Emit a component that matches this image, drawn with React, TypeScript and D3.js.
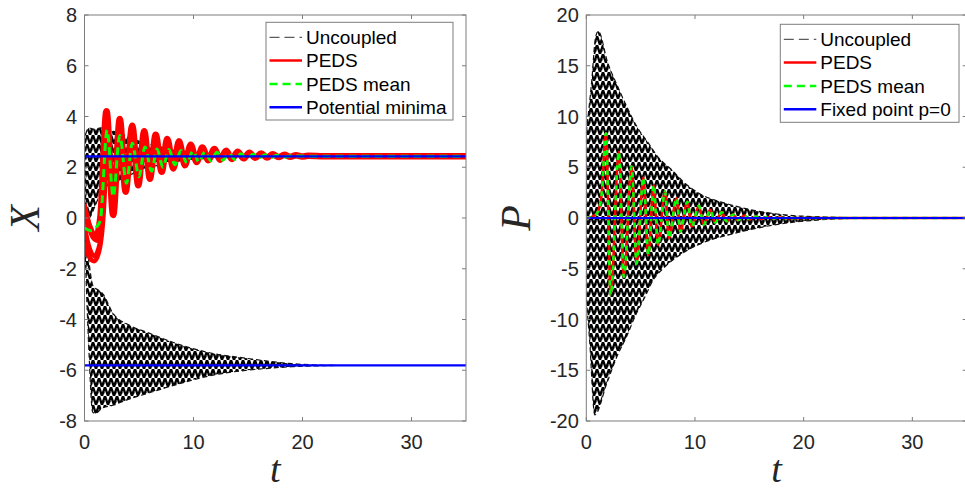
import React from "react";
import * as d3 from "d3";

type Pt = [number, number];

// ---- Tick values and labels ----
const tTicks = [0, 10, 20, 30];
const xTicks = [-8, -6, -4, -2, 0, 2, 4, 6, 8];
const pTicks = [-20, -15, -10, -5, 0, 5, 10, 15, 20];
const legendX = ["Uncoupled", "PEDS", "PEDS mean", "Potential minima"];
const legendP = ["Uncoupled", "PEDS", "PEDS mean", "Fixed point p=0"];

// ---- Reference lines ----
const xMinima = [2.43, -5.81];
const pFixed = [0];

// ---- X panel: uncoupled envelopes ----
const xUncUpTop: Pt[] = [[0.1, 3.3], [0.4, 3.55], [0.9, 3.5], [1.5, 3.55], [2.3, 3.45], [3.2, 3.35], [4.2, 3.15], [5.2, 3.0], [6.5, 2.85], [8, 2.7], [10, 2.6], [12, 2.5], [14, 2.46]];
const xUncUpBot: Pt[] = [[0.1, 0.3], [0.4, 0.0], [0.9, 0.4], [1.5, 1.0], [2.3, 1.3], [3.2, 1.5], [4.2, 1.7], [5.2, 1.9], [6.5, 2.05], [8, 2.2], [10, 2.3], [12, 2.38], [14, 2.42]];
const xUncLowTop: Pt[] = [[0.05, -0.3], [0.4, -1.7], [0.8, -2.7], [1.3, -2.85], [1.7, -3.0], [2.6, -3.75], [4, -4.2], [5.7, -4.5], [8.8, -5.0], [11.8, -5.34], [14.9, -5.53], [17, -5.65], [19, -5.74], [21, -5.79], [23, -5.81]];
const xUncLowBot: Pt[] = [[0.05, -1.2], [0.4, -5.2], [0.75, -7.65], [1.0, -7.7], [1.6, -7.5], [2.6, -7.38], [4, -7.15], [5.7, -6.92], [8.8, -6.52], [11.8, -6.19], [14.9, -6.0], [17, -5.92], [19, -5.86], [21, -5.83], [23, -5.81]];

// PEDS trajectory extrema
const xPeds: Pt[] = [[0, 0.2], [0.5, -0.4], [1.0, -0.8], [1.45, 0.0], [2.02, 4.21], [2.63, 0.12], [3.24, 3.9], [3.77, 1.03], [4.38, 3.64], [4.93, 1.29], [5.48, 3.42], [6.0, 1.55], [6.53, 3.28], [7.08, 1.82], [7.59, 3.11], [8.15, 1.95], [8.67, 3.02], [9.22, 2.08], [9.74, 2.89], [10.29, 2.21], [10.81, 2.78], [11.36, 2.28], [11.91, 2.72], [12.45, 2.3], [12.99, 2.65], [13.52, 2.33], [14.06, 2.61], [14.6, 2.35], [15.13, 2.57], [15.67, 2.37], [16.2, 2.54], [16.74, 2.38], [17.27, 2.51], [17.8, 2.4], [18.34, 2.49], [18.88, 2.41], [19.4, 2.47], [19.95, 2.42], [20.5, 2.45], [22, 2.43], [35, 2.43]];
const xPedsStartA: Pt[] = [[0, 0.55], [0.3, 0.0], [0.7, -0.7], [1.2, -0.9], [1.6, 0.5], [2.02, 4.21]];
const xPedsStartB: Pt[] = [[0, -0.3], [0.4, -1.1], [0.9, -1.5], [1.4, -1.0], [1.75, 1.0], [2.05, 4.0]];
const xPedsStartC: Pt[] = [[0, -1.0], [0.4, -1.5], [0.9, -1.7], [1.35, -1.3], [1.8, 0.5], [2.1, 3.6]];
const xMean: Pt[] = [[0, -0.4], [0.6, -0.5], [1.1, -0.35], [1.45, -0.1], [2.08, 3.47], [2.63, 0.84], [3.24, 3.25], [3.86, 1.37], [4.38, 2.95], [5.0, 1.63], [5.54, 2.8], [6.16, 1.85], [6.65, 2.72], [7.2, 2.0], [7.75, 2.7], [8.3, 2.1], [8.85, 2.66], [9.4, 2.16], [9.95, 2.64], [10.5, 2.2], [11.05, 2.62], [11.6, 2.25], [12.15, 2.59], [12.7, 2.28], [13.25, 2.56], [13.8, 2.31], [14.35, 2.53], [14.9, 2.34], [15.45, 2.51], [16.0, 2.36], [16.55, 2.49], [17.1, 2.38], [17.65, 2.47], [18.2, 2.4], [19, 2.45], [21, 2.43], [35, 2.43]];

// ---- P panel ----
const pUncTop: Pt[] = [[0, 8.5], [0.5, 13.5], [0.85, 17.8], [1.1, 18.4], [1.97, 15.3], [2.95, 12.8], [3.8, 10.8], [4.6, 9.1], [5.7, 7.4], [6.6, 6.0], [7.9, 4.7], [9.1, 3.4], [10.6, 2.3], [12.8, 1.45], [15.2, 0.8], [18.3, 0.3], [22, 0.1], [26, 0]];
const pUncBot: Pt[] = [[0, -8], [0.3, -12], [0.78, -19.4], [1.88, -16.3], [2.8, -13.7], [3.7, -11.7], [4.48, -9.7], [5.4, -7.76], [6.16, -6.1], [7.24, -4.8], [8.8, -3.5], [10.6, -2.5], [13.7, -1.5], [18.3, -0.52], [22, -0.15], [26, 0]];
const pPeds: Pt[] = [[0, 0], [0.5, 0.1], [1.0, 0.5], [1.4, 2.2], [1.81, 8.35], [2.24, -7.6], [3.0, 6.5], [3.45, -5.8], [4.17, 5.06], [4.63, -4.5], [5.25, 4.0], [5.71, -3.65], [6.2, 3.25], [6.6, -2.66], [7.24, 2.6], [7.6, -2.0], [8.3, 1.94], [8.65, -1.35], [9.3, 1.6], [9.7, -0.86], [10.35, 1.2], [10.8, -0.65], [11.4, 0.8], [11.85, -0.45], [12.45, 0.55], [12.9, -0.32], [13.5, 0.35], [13.95, -0.22], [14.55, 0.24], [15.0, -0.14], [15.6, 0.15], [16.05, -0.09], [16.7, 0.09], [17.15, -0.05], [17.8, 0.05], [18.3, -0.02], [20, 0], [35, 0]];
const pMean: Pt[] = pPeds; // mean lies on top of the PEDS curve

const W = 965;
const H = 491;
const TOP = 15;
const BOTTOM = 421;
const AXIS = "#7d7d7d";
const TXT = "#262626";
const SANS = "'Liberation Sans', Arial, Helvetica, sans-serif";
const SERIF = "'Liberation Serif', 'Times New Roman', serif";

type Band = { top: Pt[]; bot: Pt[] };

type PanelProps = {
  id: string;
  x0: number;
  x1: number;
  yDomain: [number, number];
  yTicks: number[];
  bands: Band[];
  pedsStarts: Pt[][];
  peds: Pt[];
  pedsWidth: number;
  mean: Pt[];
  meanWidth: number;
  meanDash: string;
  refs: number[];
  yLabel: string;
  yLabelX: number;
  legend: string[];
  legendBox: { x: number; y: number; w: number; h: number };
};

function Panel(p: PanelProps) {
  const x = d3.scaleLinear().domain([0, 35]).range([p.x0, p.x1]);
  const y = d3.scaleLinear().domain(p.yDomain).range([BOTTOM, TOP]);
  const curve = d3
    .line<Pt>()
    .x((d) => x(d[0]))
    .y((d) => y(d[1]))
    .curve(d3.curveMonotoneX);
  // band outline: upper envelope forward, lower envelope back
  const bandPath = (b: Band) => {
    const upper = curve(b.top) || "";
    const lower = (curve([...b.bot].reverse()) || "").replace(/^M/, "L");
    return upper + lower + "Z";
  };
  const lb = p.legendBox;
  const rowY = (i: number) => lb.y + 15 + i * 23.3;
  const cx = (p.x0 + p.x1) / 2;
  const cy = (TOP + BOTTOM) / 2;

  return (
    <g>
      <defs>
        <clipPath id={`clip-${p.id}`}>
          <rect x={p.x0} y={TOP} width={p.x1 - p.x0} height={BOTTOM - TOP} />
        </clipPath>
        <pattern id={`hatch-${p.id}`} patternUnits="userSpaceOnUse" width={6} height={9}>
          <path d="M0,9 L3,0 L6,9" fill="none" stroke="#000" strokeWidth={2.3} />
          <path d="M1.2,4 L2,6.5" fill="none" stroke="#000" strokeWidth={1.4} />
        </pattern>
      </defs>
      <rect x={p.x0} y={TOP} width={p.x1 - p.x0} height={BOTTOM - TOP} fill="#fff" />
      <g clipPath={`url(#clip-${p.id})`}>
        {p.bands.map((b, i) => (
          <path key={i} d={bandPath(b)} fill={`url(#hatch-${p.id})`} stroke="#111" strokeWidth={1.2} strokeDasharray="5,3" />
        ))}
        {p.pedsStarts.map((s, i) => (
          <path key={i} d={curve(s) || ""} fill="none" stroke="#ff0000" strokeWidth={4.5} />
        ))}
        <path d={curve(p.peds) || ""} fill="none" stroke="#ff0000" strokeWidth={p.pedsWidth} strokeLinejoin="round" />
        <path d={curve(p.mean) || ""} fill="none" stroke="#00ff00" strokeWidth={p.meanWidth} strokeDasharray={p.meanDash} />
        {p.refs.map((r) => (
          <line key={r} x1={x(0)} x2={x(35)} y1={y(r)} y2={y(r)} stroke="#0000ff" strokeWidth={2.2} />
        ))}
      </g>
      {/* axes box */}
      <rect x={p.x0} y={TOP} width={p.x1 - p.x0} height={BOTTOM - TOP} fill="none" stroke={AXIS} strokeWidth={1} />
      {tTicks.map((t) => (
        <g key={t}>
          <line x1={x(t)} x2={x(t)} y1={BOTTOM} y2={BOTTOM - 4} stroke={AXIS} />
          <line x1={x(t)} x2={x(t)} y1={TOP} y2={TOP + 4} stroke={AXIS} />
          <text x={x(t)} y={449} textAnchor="middle" fontFamily={SANS} fontSize={20} fill={TXT}>
            {t}
          </text>
        </g>
      ))}
      {p.yTicks.map((v) => (
        <g key={v}>
          <line x1={p.x0} x2={p.x0 + 4} y1={y(v)} y2={y(v)} stroke={AXIS} />
          <line x1={p.x1} x2={p.x1 - 4} y1={y(v)} y2={y(v)} stroke={AXIS} />
          <text x={p.x0 - 7.5} y={y(v) + 7.2} textAnchor="end" fontFamily={SANS} fontSize={20} fill={TXT}>
            {v}
          </text>
        </g>
      ))}
      {/* axis labels */}
      <text x={cx} y={482} textAnchor="middle" fontFamily={SERIF} fontStyle="italic" fontSize={38} fill={TXT}>
        t
      </text>
      <text
        transform={`translate(${p.yLabelX},${cy}) rotate(-90)`}
        textAnchor="middle"
        fontFamily={SERIF}
        fontStyle="italic"
        fontSize={42}
        fill={TXT}
      >
        {p.yLabel}
      </text>
      {/* legend */}
      <rect x={lb.x} y={lb.y} width={lb.w} height={lb.h} fill="#fff" stroke={AXIS} strokeWidth={1} />
      <line x1={lb.x + 3.5} x2={lb.x + 36} y1={rowY(0)} y2={rowY(0)} stroke="#333" strokeWidth={1} strokeDasharray="10,5" />
      <line x1={lb.x + 3.5} x2={lb.x + 36} y1={rowY(1)} y2={rowY(1)} stroke="#ff0000" strokeWidth={2.5} />
      <line x1={lb.x + 3.5} x2={lb.x + 36} y1={rowY(2)} y2={rowY(2)} stroke="#00ff00" strokeWidth={2.5} strokeDasharray="8,5" />
      <line x1={lb.x + 3.5} x2={lb.x + 36} y1={rowY(3)} y2={rowY(3)} stroke="#0000ff" strokeWidth={2.5} />
      {p.legend.map((s, i) => (
        <text key={s} x={lb.x + 40} y={rowY(i) + 6.8} fontFamily={SANS} fontSize={19} fill="#000">
          {s}
        </text>
      ))}
    </g>
  );
}

export default function App() {
  return (
    <svg
      width={W}
      height={H}
      viewBox={`0 0 ${W} ${H}`}
      style={{ position: "absolute", left: 0, top: 0, background: "#fff" }}
    >
      <rect x={0} y={0} width={W} height={H} fill="#fff" />
      <Panel
        id="x"
        x0={84.5}
        x1={466}
        yDomain={[-8, 8]}
        yTicks={xTicks}
        bands={[
          { top: xUncUpTop, bot: xUncUpBot },
          { top: xUncLowTop, bot: xUncLowBot },
        ]}
        pedsStarts={[xPedsStartA, xPedsStartB, xPedsStartC]}
        peds={xPeds}
        pedsWidth={6.5}
        mean={xMean}
        meanWidth={3}
        meanDash="8,5"
        refs={xMinima}
        yLabel="X"
        yLabelX={39}
        legend={legendX}
        legendBox={{ x: 266, y: 22.3, w: 187, h: 97.7 }}
      />
      <Panel
        id="p"
        x0={586.3}
        x1={966.7}
        yDomain={[-20, 20]}
        yTicks={pTicks}
        bands={[{ top: pUncTop, bot: pUncBot }]}
        pedsStarts={[]}
        peds={pPeds}
        pedsWidth={2.6}
        mean={pMean}
        meanWidth={2.6}
        meanDash="5,5"
        refs={pFixed}
        yLabel="P"
        yLabelX={530}
        legend={legendP}
        legendBox={{ x: 780.3, y: 24.3, w: 178.7, h: 98 }}
      />
    </svg>
  );
}
